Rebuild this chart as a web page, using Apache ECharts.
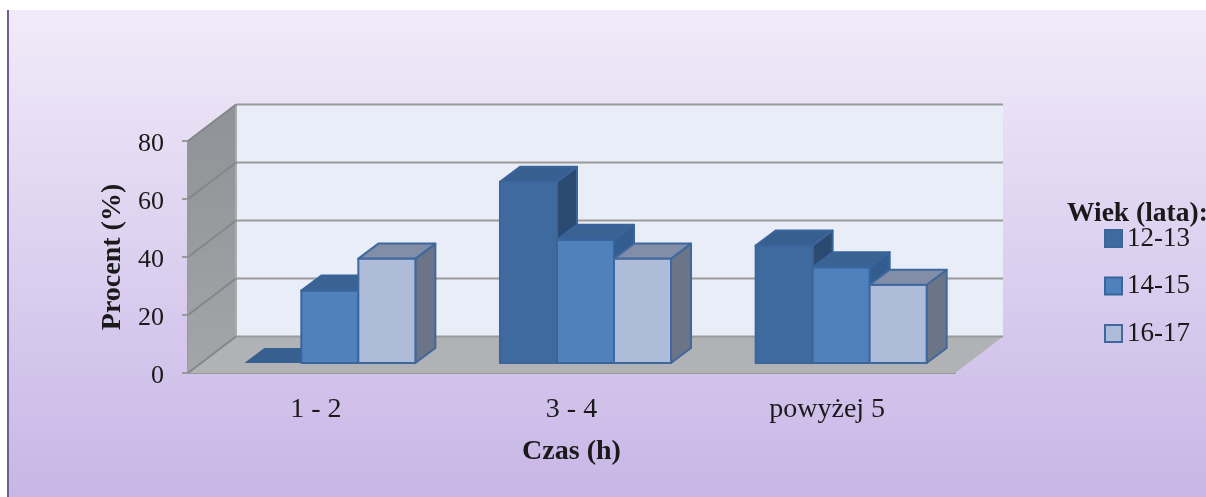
<!DOCTYPE html>
<html>
<head>
<meta charset="utf-8">
<style>html,body{margin:0;padding:0;background:#fff}#chart{width:1206px;height:497px}</style>
<script src="https://cdn.jsdelivr.net/npm/echarts@6/dist/echarts.min.js"></script>
</head>
<body>
<div id="chart"></div>
<script>
// Share of respondents per daily time band, split by age group
const categories = ['1 - 2', '3 - 4', 'powyżej 5'];
const yTicks = [0, 20, 40, 60, 80];
const age12to13 = [0, 62.5, 40.5];
const age14to15 = [25, 42.5, 33];
const age16to17 = [36, 36, 27];

// Oblique projection of the box: how far the back wall sits from the front edge
const WALL_DX = 48, WALL_DY = -36.5;
// Where the bars stand inside the floor, and how deep they are
const BAR_DX = 14, BAR_DY = -10, DEPTH_DX = 20, DEPTH_DY = -15;
const BAR_SHARE = 0.223;
const FONT = '"Liberation Serif", "Times New Roman", serif';
const TEXT = '#1a1a1a';
const WALL_LINE = '#9a9a9a';
const SIDE_WALL_LINE = '#84868a';

const palettes = [
  { front: '#3f6a9f', top: '#375f90', side: '#2b4a72', line: '#3c659a' },
  { front: '#4f81bd', top: '#3a6394', side: '#335d8f', line: '#38659c' },
  { front: '#aebcd9', top: '#828ea8', side: '#6b7587', line: '#3f689d' }
];

function poly(points, fill, stroke, width) {
  return {
    type: 'polygon',
    shape: { points },
    style: { fill, stroke: stroke || null, lineWidth: width || 0, lineJoin: 'round' },
    silent: true
  };
}

function segment(points, stroke) {
  return {
    type: 'polyline',
    shape: { points },
    style: { fill: null, stroke, lineWidth: 2 },
    silent: true
  };
}

// Floor, side wall and back wall of the plot box
function renderWalls(params) {
  const g = params.coordSys;
  const l = g.x, r = g.x + g.width, t = g.y, b = g.y + g.height;
  const dx = WALL_DX, dy = WALL_DY;
  return {
    type: 'group',
    children: [
      poly([[l + dx, t + dy], [r + dx, t + dy], [r + dx, b + dy], [l + dx, b + dy]], '#e9edf7'),
      poly([[l, b], [l + dx, b + dy], [r + dx, b + dy], [r, b]], '#b0b2b5'),
      poly([[l, t], [l + dx, t + dy], [l + dx, b + dy], [l, b]], {
        type: 'linear', x: 0, y: 0, x2: 0, y2: 1,
        colorStops: [{ offset: 0, color: '#8f9296' }, { offset: 1, color: '#a3a5a7' }]
      }),
      segment([[l + dx, t + dy], [l + dx, b + dy]], '#a9abae')
    ]
  };
}

// One gridline per tick, running over the side wall and then the back wall
function renderGridline(params, api) {
  const g = params.coordSys;
  const y = api.coord([0, api.value(0)])[1];
  const l = g.x, r = g.x + g.width;
  return {
    type: 'group',
    children: [
      segment([[l + WALL_DX, y + WALL_DY], [r + WALL_DX, y + WALL_DY]], WALL_LINE),
      segment([[l, y], [l + WALL_DX, y + WALL_DY]], SIDE_WALL_LINE)
    ]
  };
}

function barRenderer(seriesIndex) {
  const colors = palettes[seriesIndex];
  return function (params, api) {
    const base = api.coord([api.value(0), 0]);
    const tip = api.coord([api.value(0), api.value(1)]);
    const w = api.size([1, 0])[0] * BAR_SHARE;
    const x0 = base[0] + BAR_DX + (seriesIndex - 1.5) * w;
    const x1 = x0 + w;
    const yb = base[1] + BAR_DY;
    const yt = tip[1] + BAR_DY;
    const dx = DEPTH_DX, dy = DEPTH_DY;
    const flat = api.value(1) === 0;
    const children = [];
    if (!flat) {
      children.push(poly([[x1, yt], [x1 + dx, yt + dy], [x1 + dx, yb + dy], [x1, yb]], colors.side, colors.line, 2));
      children.push(poly([[x0, yb], [x1, yb], [x1, yt], [x0, yt]], colors.front, colors.line, 2));
    }
    children.push(poly([[x0, yt], [x1, yt], [x1 + dx, yt + dy], [x0 + dx, yt + dy]], colors.top, colors.line, flat ? 0 : 2));
    return { type: 'group', children };
  };
}

function barSeries(name, values, index) {
  return {
    name,
    type: 'custom',
    renderItem: barRenderer(index),
    data: values.map((v, i) => [i, v]),
    encode: { x: 0, y: 1 },
    itemStyle: { color: palettes[index].front, borderColor: palettes[index].line, borderWidth: 2 },
    z: 5 + index,
    silent: true
  };
}

const chart = echarts.init(document.getElementById('chart'), null, { renderer: 'canvas' });
chart.setOption({
  animation: false,
  title: {
    text: 'Wiek (lata):',
    left: 1067,
    top: 200,
    padding: 0,
    textStyle: { fontFamily: FONT, fontSize: 27.5, fontWeight: 'bold', color: TEXT }
  },
  legend: {
    orient: 'vertical',
    left: 1104,
    top: 225,
    padding: 0,
    itemWidth: 17,
    itemHeight: 17,
    itemGap: 20.5,
    icon: 'rect',
    selectedMode: false,
    textStyle: { fontFamily: FONT, fontSize: 27, color: TEXT },
    data: ['12-13', '14-15', '16-17']
  },
  graphic: [
    {
      type: 'rect',
      z: -10,
      silent: true,
      shape: { x: 8, y: 10, width: 1198, height: 487 },
      style: {
        fill: {
          type: 'linear', x: 0, y: 0, x2: 0, y2: 1,
          colorStops: [{ offset: 0, color: '#f1ebf9' }, { offset: 1, color: '#c8b6e6' }]
        }
      }
    },
    {
      type: 'rect',
      z: -9,
      silent: true,
      shape: { x: 7, y: 10, width: 2, height: 487 },
      style: { fill: '#6f5f92' }
    }
  ],
  grid: { left: 188, top: 141, width: 767, height: 232, containLabel: false },
  xAxis: {
    type: 'category',
    data: categories,
    name: 'Czas (h)',
    nameLocation: 'middle',
    nameGap: 65,
    nameTextStyle: { fontFamily: FONT, fontSize: 28, fontWeight: 'bold', color: TEXT },
    axisLine: { show: true, lineStyle: { color: WALL_LINE, width: 2 } },
    axisTick: { show: false },
    axisLabel: { fontFamily: FONT, fontSize: 28, color: TEXT, margin: 23 }
  },
  yAxis: {
    type: 'value',
    min: 0,
    max: 80,
    interval: 20,
    name: 'Procent (%)',
    nameLocation: 'middle',
    nameRotate: 90,
    nameGap: 55,
    nameTextStyle: { fontFamily: FONT, fontSize: 28, fontWeight: 'bold', color: TEXT },
    splitLine: { show: false },
    axisLine: { show: true, lineStyle: { color: WALL_LINE, width: 2 } },
    axisTick: { show: true, length: 6, lineStyle: { color: WALL_LINE, width: 2 } },
    axisLabel: { fontFamily: FONT, fontSize: 26, color: TEXT, margin: 24, verticalAlign: 'top', lineHeight: 6 }
  },
  series: [
    { type: 'custom', renderItem: renderWalls, data: [[0, 0]], encode: { x: 0, y: 1 }, z: 1, silent: true },
    { type: 'custom', renderItem: renderGridline, data: yTicks.map(t => [t]), encode: { y: 0 }, z: 2, silent: true },
    barSeries('12-13', age12to13, 0),
    barSeries('14-15', age14to15, 1),
    barSeries('16-17', age16to17, 2)
  ]
});
</script>
</body>
</html>
